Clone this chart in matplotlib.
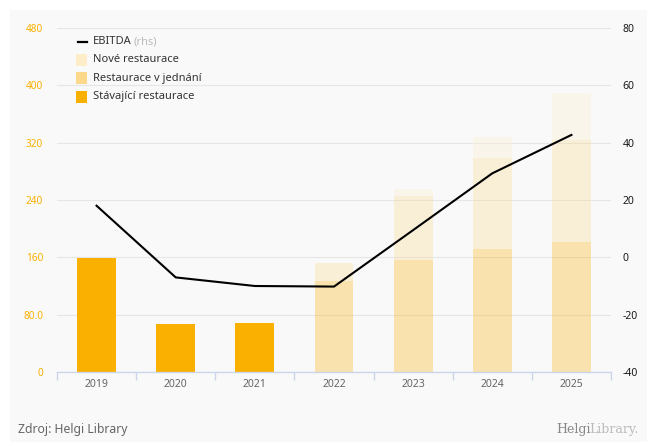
import numpy as np
import matplotlib.pyplot as plt
from matplotlib.patches import Rectangle
from matplotlib.lines import Line2D

plt.rcParams['font.family'] = ['Noto Sans', 'DejaVu Sans']
plt.rcParams['axes.unicode_minus'] = False

years = ['2019', '2020', '2021', '2022', '2023', '2024', '2025']
stavajici = [159, 67, 68, 127, 156, 172, 181]
v_jednani = [0, 0, 0, 25, 90, 126, 143]
nove = [0, 0, 0, 0, 10, 30, 66]
ebitda = [18, -7, -10, -10.2, 9.5, 29.3, 42.7]
forecast = [False, False, False, True, True, True, True]

left_ticks = [0, 80, 160, 240, 320, 400, 480]
left_labels = ['0', '80.0', '160', '240', '320', '400', '480']
right_ticks = [-40, -20, 0, 20, 40, 60, 80]

c_stav = '#F9B000'
c_jedn = '#FCD98A'
c_nove = '#FDEDC8'
bg = '#F9F9F9'

fig = plt.figure(figsize=(6.47, 4.42), dpi=100)
fig.patch.set_facecolor('white')
fig.patches.append(Rectangle((10 / 647, 0), 1, 432 / 442, transform=fig.transFigure,
                             facecolor=bg, edgecolor='none', zorder=-10))

ax = fig.add_axes([57 / 647, 70 / 442, 554 / 647, 344 / 442])
ax.set_facecolor(bg)
x = np.arange(len(years))
w = 0.49
s = np.array(stavajici)
j = np.array(v_jednani)
for i in range(len(years)):
    a = 0.3 if forecast[i] else 1.0
    ax.bar(x[i], s[i], w, color=c_stav, alpha=a, zorder=2)
    ax.bar(x[i], j[i], w, bottom=s[i], color=c_jedn, alpha=a, zorder=2)
    ax.bar(x[i], nove[i], w, bottom=s[i] + j[i], color=c_nove, alpha=a, zorder=2)

ax.set_xlim(-0.5, len(years) - 0.5)
ax.set_ylim(0, 480)
ax.set_yticks(left_ticks)
ax.set_yticklabels(left_labels)
ax.tick_params(axis='y', length=0, pad=10, labelsize=7.2, labelcolor=c_stav)
ax.grid(axis='y', color='#E6E6E6', linewidth=0.8, zorder=0)
ax.set_xticks(x)
ax.set_xticklabels(years)
ax.set_xticks(np.arange(-0.5, len(years)), minor=True)
ax.tick_params(axis='x', which='major', length=0, pad=5, labelsize=7.5, labelcolor='#666666')
ax.tick_params(axis='x', which='minor', length=6, color='#CCD6EB', width=1)
for sp in ['top', 'left', 'right']:
    ax.spines[sp].set_visible(False)
ax.spines['bottom'].set_color('#CCD6EB')
ax.spines['bottom'].set_linewidth(1)

ax2 = ax.twinx()
ax2.plot(x, ebitda, color='black', linewidth=1.5, zorder=5)
ax2.set_ylim(-40, 80)
ax2.set_yticks(right_ticks)
ax2.tick_params(axis='y', length=0, pad=8.5, labelsize=7.5, labelcolor='#1A1A1A')
for sp in ax2.spines.values():
    sp.set_visible(False)

# legend
def fx(px):
    return px / 647

def fy(py):
    return 1 - py / 442

fig.lines.append(Line2D([fx(78), fx(87)], [fy(42), fy(42)], color='black', linewidth=1.6,
                        transform=fig.transFigure))
fig.text(fx(93), fy(42), 'EBITDA', fontsize=8, color='#333333', va='center')
fig.text(fx(134), fy(42), '(rhs)', fontsize=8, color='#BBBBBB', va='center')
items = [('Nové restaurace', c_nove, 60), ('Restaurace v jednání', c_jedn, 78),
         ('Stávající restaurace', c_stav, 97)]
for lab, col, py in items:
    fig.patches.append(Rectangle((fx(76), fy(py + 5.5)), 11 / 647, 11 / 442,
                                 transform=fig.transFigure, facecolor=col, edgecolor='none'))
    fig.text(fx(93), fy(py), lab, fontsize=8, color='#333333', va='center')

fig.text(fx(18), fy(429), 'Zdroj: Helgi Library', fontsize=8.8, color='#666666', va='center')
fig.text(fx(556), fy(429), 'Helgi', fontsize=9, color='#888888', va='center', family='DejaVu Serif')
fig.text(fx(589), fy(429), 'Library.', fontsize=9, color='#BBBBBB', va='center',
         family='DejaVu Serif')

fig.savefig('out.png', dpi=100)
